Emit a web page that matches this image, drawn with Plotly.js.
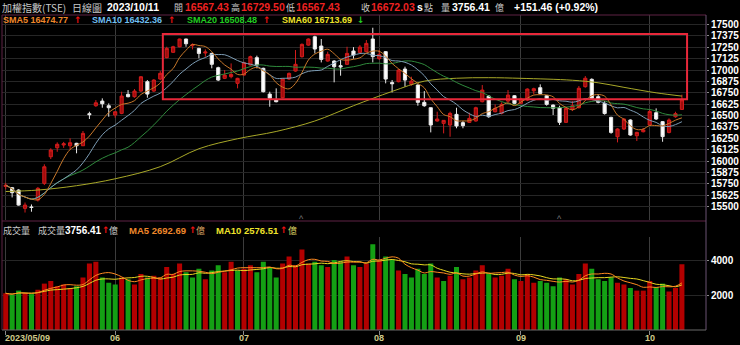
<!DOCTYPE html>
<html><head><meta charset="utf-8">
<script src="https://cdn.plot.ly/plotly-3.0.1.min.js"></script>
<style>html,body{margin:0;padding:0;background:#000;}#chart{width:740px;height:345px;}</style>
</head><body><div id="chart"></div>
<script>
// ---- data ----
const openP  = [15720,15707,15681,15480,15495,15571,15755,16047,16146,16176,16168,16195,16168,16520,16608,16659,16608,16506,16524,16733,
                16707,16769,16872,16769,16901,17136,17195,17256,17341,17267,17238,17187,17183,17026,16909,16927,16854,16945,17055,17136,
                17019,16736,16670,16696,16901,16989,17147,17274,17366,17264,17099,17099,17048,17063,17209,17194,17202,17341,17125,17202,
                16862,16872,17011,16843,16835,16645,16586,16440,16414,16396,16513,16422,16425,16440,16652,16714,16542,16524,16659,16718,
                16634,16670,16772,16806,16718,16615,16586,16425,16571,16586,16817,16898,16707,16634,16480,16267,16352,16451,16278,16322,
                16396,16531,16433,16315,16487,16567.43];
const highP  = [15760,15715,15690,15544,15523,15715,15964,16140,16205,16210,16250,16200,16330,16542,16670,16689,16634,16545,16762,16780,
                16791,16934,16890,16900,16989,17256,17267,17345,17345,17293,17245,17227,17190,17037,17000,17073,16915,17092,17158,17158,
                17026,16762,16799,16909,16974,17220,17293,17348,17377,17341,17202,17110,17110,17256,17252,17274,17330,17465,17220,17209,
                16890,17011,17037,16927,16843,16769,16590,16542,16450,16542,16586,16440,16531,16597,16835,16725,16623,16645,16780,16725,
                16696,16799,16806,16843,16725,16623,16608,16586,16659,16824,16934,16909,16733,16659,16487,16360,16469,16458,16322,16363,
                16568,16579,16440,16469,16542,16729.50];
const lowP   = [15690,15600,15510,15434,15443,15555,15736,16022,16102,16145,16121,16085,16165,16462,16595,16586,16487,16476,16515,16700,
                16696,16760,16696,16760,16890,17129,17190,17250,17256,17227,17129,17146,17019,16879,16901,16909,16799,16938,17048,17019,
                16754,16597,16645,16689,16890,16982,17136,17267,17183,17084,17092,16865,16938,17055,17125,17183,17194,17084,17110,16854,
                16754,16865,16817,16828,16608,16597,16315,16433,16304,16267,16360,16360,16418,16433,16645,16476,16535,16513,16645,16623,
                16623,16659,16733,16733,16608,16506,16396,16422,16549,16579,16806,16680,16634,16510,16300,16205,16341,16278,16220,16315,
                16389,16451,16212,16304,16476,16567.43];
const closeP = [15735,15652,15516,15516,15490,15700,15937,16121,16184,16190,16201,16168,16304,16510,16640,16630,16586,16542,16714,16707,
                16769,16926,16736,16890,16964,17238,17256,17341,17289,17278,17183,17198,17063,16890,16945,16952,16909,17081,17147,17055,
                16762,16689,16652,16901,16963,17063,17282,17341,17231,17117,17172,17037,17035,17183,17165,17252,17293,17147,17172,16901,
                16850,17000,16890,16879,16645,16608,16396,16462,16447,16524,16385,16389,16469,16586,16780,16487,16579,16623,16725,16634,
                16681,16791,16795,16743,16623,16579,16425,16579,16608,16800,16910,16690,16645,16522,16315,16352,16462,16286,16315,16342,
                16545,16462,16268,16451,16520.57,16672.03];
const volume = [2100,2000,2250,2100,2050,2300,2650,2800,2500,2600,2400,2500,3000,3800,3900,3000,2700,2600,3000,2900,
                2600,3200,3000,3100,3000,3600,3200,3800,3300,3000,3500,2900,3400,3700,3300,3900,3400,3500,3700,3300,
                3900,3600,3000,3800,4200,3700,4600,3800,3900,3700,3600,4000,3900,4200,3700,3600,3800,4900,4000,4200,
                4000,3400,3200,3000,3500,3200,3800,3000,2800,3100,3600,2900,3000,3400,3700,3200,3000,3100,3500,2900,
                2800,3200,2700,2800,2700,2500,3000,2900,2600,3200,3800,3500,2900,2800,3000,2700,2600,2400,2250,2250,
                2800,2450,2650,2200,2407,3756.41];
// SMA60 at a few trading-day indices
const sma60Idx = [0,5,11,17,24,30,36,42,48,54,60,65,70,75,80,88,92,96,101,105];
const sma60Val = [15665,15681,15729,15805,15938,16135,16245,16325,16440,16608,16765,16878,16910,16916,16909,16888,16860,16810,16750,16713.69];
const tickIdx  = [0,17,37,58,80,100];
const tickText = ['2023/05/09','06','07','08','09','10'];
const priceTicks = [15500,15625,15750,15875,16000,16125,16250,16375,16500,16625,16750,16875,17000,17125,17250,17375,17500];
const volTicks = [2000,4000];
const markIdx = [46,86];

// ---- helpers ----
const idx = closeP.map((_, i) => i);
function sma(a, n) { return a.map((_, i) => { const s = Math.max(0, i - n + 1); let t = 0; for (let k = s; k <= i; k++) t += a[k]; return t / (i - s + 1); }); }
const RED = '#b30000', GREEN = '#14a014';
const volColors = closeP.map((c, i) => (i === 0 || c >= closeP[i - 1]) ? RED : GREEN);

const NUMF = "'Liberation Sans', Arial, sans-serif";
const ARRF = "'DejaVu Sans', sans-serif";
const CJKF = "'Noto Sans CJK TC', 'Noto Sans CJK SC', sans-serif";
function px(x) { return (x - 2) / 704; }
function py(y) { return (330 - y) / 315; }
function T(x, y, text, color, size, fam, bold) {
  return { xref: 'paper', yref: 'paper', x: px(x), y: py(y), xanchor: 'left', yanchor: 'middle', text: text, showarrow: false,
           borderpad: 0,
           font: { family: fam || NUMF, size: size || 10, color: color, weight: bold === false ? 'normal' : 'bold' } };
}
const GRAY = '#c8c8c8', HRED = '#ee2222', ARED = '#ee1111';
const L1 = 7, L2 = 20;
const ann = [
  T(1, L1, '加權指數(TSE)', GRAY, 10, CJKF, false),
  T(71, L1, '日線圖', GRAY, 10, CJKF, false),
  T(106, L1, '2023/10/11', '#ffffff', 10.5),
  T(173, L1, '開', GRAY, 9, CJKF, false),
  T(184, L1, '16567.43', HRED, 10.5),
  T(230, L1, '高', GRAY, 9, CJKF, false),
  T(240, L1, '16729.50', HRED, 10.5),
  T(285, L1, '低', GRAY, 9, CJKF, false),
  T(295, L1, '16567.43', HRED, 10.5),
  T(360, L1, '收', GRAY, 9, CJKF, false),
  T(370, L1, '16672.03', HRED, 10.5),
  T(416, L1, 's', '#ffffff', 10.5),
  T(423, L1, '點', GRAY, 9, CJKF, false),
  T(440, L1, '量', GRAY, 9, CJKF, false),
  T(451, L1, '3756.41', '#ffffff', 10.5),
  T(494, L1, '億', GRAY, 9, CJKF, false),
  T(513, L1, '+151.46 (+0.92%)', '#ffffff', 10.5),

  T(2, L2, 'SMA5 16474.77', '#f0882a', 9),
  T(73, L2, '↑', ARED, 9, ARRF),
  T(91, L2, 'SMA10 16432.36', '#70bff0', 9),
  T(167, L2, '↑', ARED, 9, ARRF),
  T(186, L2, 'SMA20 16508.48', '#22cc22', 9),
  T(262, L2, '↑', ARED, 9, ARRF),
  T(281, L2, 'SMA60 16713.69', '#eee22a', 9),
  T(356, L2, '↓', '#22cc22', 9, ARRF),

  T(2, 230, '成交量', GRAY, 9, CJKF, false),
  T(37, 230, '成交量', GRAY, 9, CJKF, false),
  T(64, 230, '3756.41', '#ffffff', 10),
  T(101, 230, '↑', ARED, 9, ARRF),
  T(108, 230, '億', GRAY, 9, CJKF, false),
  T(128, 230, 'MA5 2692.69', '#f0882a', 9.5),
  T(188, 230, '↑', ARED, 9, ARRF),
  T(195, 230, '億', '#d8a060', 9, CJKF, false),
  T(215, 230, 'MA10 2576.51', '#eee22a', 9.5),
  T(279, 230, '↑', ARED, 9, ARRF),
  T(287, 230, '億', '#d8d060', 9, CJKF, false)
];
// bottom date labels
tickIdx.forEach((v, k) => {
  ann.push({ xref: 'x', yref: 'paper', x: v, y: py(338), xanchor: k === 0 ? 'left' : 'center', xshift: k === 0 ? -3 : 0, yanchor: 'middle',
             text: tickText[k], showarrow: false, font: { family: NUMF, size: 9, color: '#cfc98a', weight: 'bold' } });
});
// small event markers at the bottom of the price panel
markIdx.forEach(v => ann.push({ xref: 'x', yref: 'paper', x: v, y: py(219), yanchor: 'middle', text: '^', showarrow: false,
                                 font: { family: NUMF, size: 9, color: '#777777' } }));

const traces = [
  { type: 'candlestick', x: idx, open: openP, high: highP, low: lowP, close: closeP, xaxis: 'x', yaxis: 'y',
    increasing: { line: { color: '#d41c1c', width: 1 }, fillcolor: '#a00c0c' },
    decreasing: { line: { color: '#e8e8e8', width: 1 }, fillcolor: '#ffffff' }, whiskerwidth: 0, hoverinfo: 'skip' },
  { type: 'scatter', mode: 'lines', x: sma60Idx, y: sma60Val, line: { color: '#a8a828', width: 1, shape: 'spline' }, yaxis: 'y' },
  { type: 'scatter', mode: 'lines', x: idx, y: sma(closeP, 20), line: { color: '#2f8a3c', width: 1, shape: 'spline' }, yaxis: 'y' },
  { type: 'scatter', mode: 'lines', x: idx, y: sma(closeP, 10), line: { color: '#7d9db5', width: 1, shape: 'spline' }, yaxis: 'y' },
  { type: 'scatter', mode: 'lines', x: idx, y: sma(closeP, 5), line: { color: '#c8782a', width: 1, shape: 'spline' }, yaxis: 'y' },
  { type: 'bar', x: idx, y: volume, marker: { color: volColors, line: { width: 0 } }, yaxis: 'y2' },
  { type: 'scatter', mode: 'lines', x: idx, y: sma(volume, 10), line: { color: '#e8d820', width: 1, shape: 'spline' }, yaxis: 'y2' },
  { type: 'scatter', mode: 'lines', x: idx, y: sma(volume, 5), line: { color: '#ff8a20', width: 1, shape: 'spline' }, yaxis: 'y2' }
];

const BORDER = '#5e2344';
const TICKF = { family: NUMF, size: 10, color: '#ffffff', weight: 'bold' };
const layout = {
  width: 740, height: 345, paper_bgcolor: '#000000', plot_bgcolor: '#000000',
  margin: { l: 2, r: 34, t: 15, b: 15 }, showlegend: false, bargap: 0.22, hovermode: false,
  xaxis: { range: [-0.575, 108.74], anchor: 'y2', tickvals: tickIdx, showticklabels: false, ticks: 'outside', ticklen: 4,
           tickcolor: '#8a8a8a', showgrid: true, gridcolor: '#3c3c3c', gridwidth: 1, zeroline: false, showline: false,
           rangeslider: { visible: false }, fixedrange: true },
  yaxis: { domain: [py(220), 1], range: [15352, 17605], side: 'right', tickvals: priceTicks, ticktext: priceTicks.map(String),
           ticks: 'outside', ticklen: 2, tickcolor: '#8a8a8a', gridcolor: '#262626', zeroline: false, showline: false, tickfont: TICKF },
  yaxis2: { domain: [0, py(237)], range: [0, 5314], side: 'right', tickvals: volTicks, ticktext: volTicks.map(String),
            ticks: 'outside', ticklen: 2, tickcolor: '#8a8a8a', gridcolor: '#262626', zeroline: false, showline: false, tickfont: TICKF },
  annotations: ann,
  shapes: [
    { type: 'line', xref: 'paper', yref: 'paper', x0: 0, x1: 1, y0: 1, y1: 1, line: { color: BORDER, width: 1 } },
    { type: 'line', xref: 'paper', yref: 'paper', x0: 0, x1: 1, y0: py(221), y1: py(221), line: { color: BORDER, width: 1 } },
    { type: 'line', xref: 'paper', yref: 'paper', x0: 0, x1: 0, y0: 0, y1: 1, line: { color: BORDER, width: 1 } },
    { type: 'line', xref: 'paper', yref: 'paper', x0: 1, x1: 1, y0: 0, y1: 1, line: { color: '#6a5272', width: 1 } },
    { type: 'line', xref: 'paper', yref: 'paper', x0: 0, x1: 1, y0: 0, y1: 0, line: { color: '#6a6a6a', width: 1 } },
    { type: 'rect', xref: 'x', yref: 'y', x0: 24.4, x1: 105.8, y0: 16678, y1: 17396, line: { color: '#e8283a', width: 2 } }
  ]
};
Plotly.newPlot('chart', traces, layout, { staticPlot: true, displayModeBar: false });
</script></body></html>
